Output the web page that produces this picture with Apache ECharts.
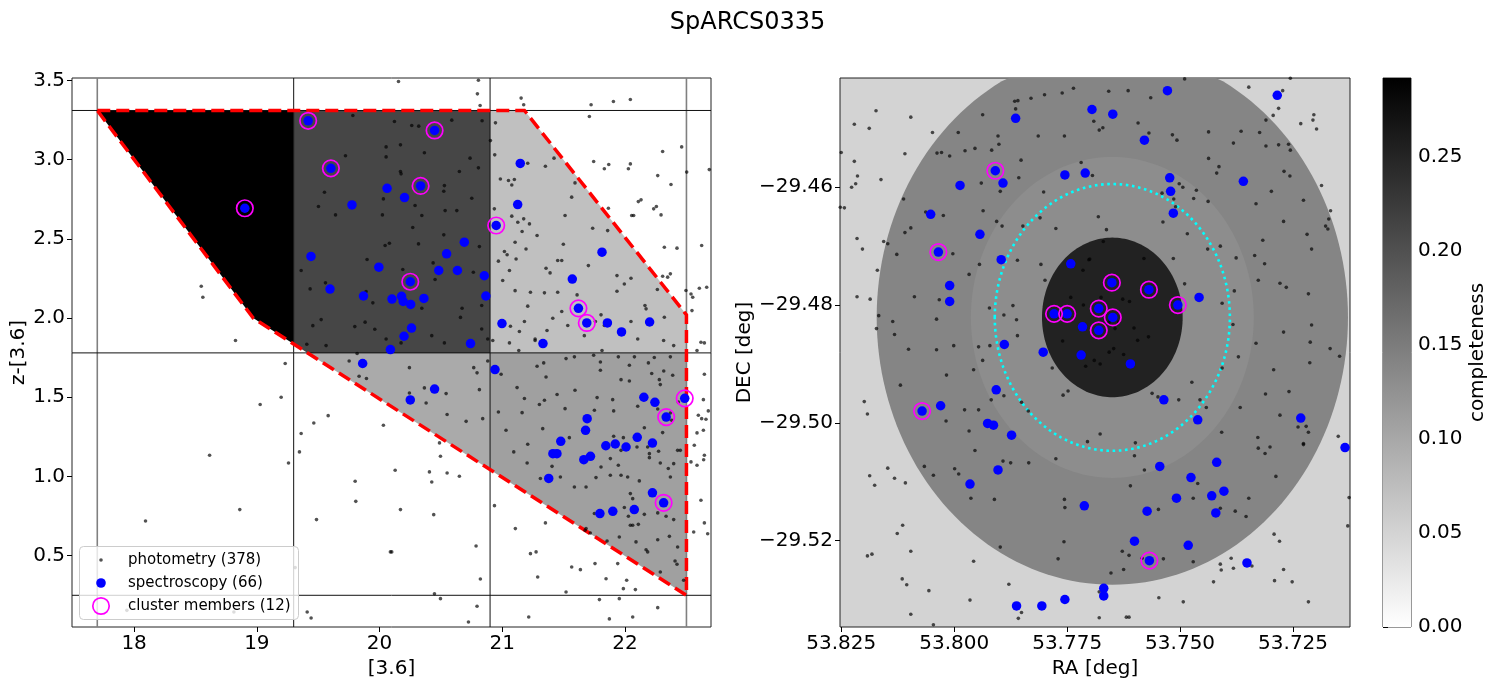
<!DOCTYPE html>
<html>
<head>
<meta charset="utf-8">
<title>SpARCS0335</title>
<script src="https://cdn.jsdelivr.net/npm/echarts@6/dist/echarts.min.js"></script>
<style>
  html, body { margin: 0; padding: 0; background: #fff; }
  #main { width: 1495px; height: 686px; }
</style>
</head>
<body>
<div id="main"></div>
<script>
// ---- colour-magnitude panel: [3.6] vs z-[3.6] ----
var magLim = [17.494, 22.70];
var colLim = [0.05, 3.515];
var magTicks = [18, 19, 20, 21, 22];
var colTicks = [0.5, 1.0, 1.5, 2.0, 2.5, 3.0, 3.5];
var magEdges = [17.7, 19.3, 20.9, 22.5];
var colEdges = [0.25, 1.78, 3.31];
// completeness per cell, row 0 = lower colour bin, row 1 = upper colour bin
var cellComp = [[0.097, 0.097, 0.109], [0.292, 0.212, 0.072]];
// selection window (red dashed)
var selMag = [17.7, 21.18, 22.5, 22.5, 18.97];
var selCol = [3.31, 3.31, 2.02, 0.25, 2.0];

var photCMD = [
[19.782,3.278],[20.053,3.080],[20.053,3.017],[19.722,3.024],[19.551,2.794],[20.031,2.752],[19.502,2.704],[19.641,2.651],
[20.023,2.651],[20.045,2.458],[20.080,2.472],[19.898,2.369],[19.361,2.300],[19.559,2.222],[19.434,2.184],[19.890,2.167],
[19.945,2.096],[19.524,1.990],[19.456,1.952],[19.882,1.974],[19.798,1.946],[19.961,1.929],[20.053,1.868],[19.407,1.835],
[19.564,1.826],[18.547,2.201],[18.560,2.131],[18.826,1.858],
[20.154,3.493],[20.805,3.501],[20.797,3.415],[20.819,3.341],[21.153,3.388],[21.174,3.346],[21.723,3.346],[21.905,3.367],
[22.043,3.379],[21.709,3.272],[20.121,3.240],[20.262,3.215],[20.319,3.211],[20.588,3.249],[20.835,3.245],[20.170,3.093],
[20.365,3.043],[20.737,3.009],[20.805,2.948],[20.650,2.925],[20.170,2.925],[20.175,2.910],[20.528,2.836],[20.523,2.800],
[20.751,2.756],[20.289,2.710],[20.344,2.647],[20.534,2.678],[20.629,2.678],[20.270,2.571],[20.523,2.525],[20.317,2.468],
[20.813,2.451],[20.436,2.348],[20.764,2.289],[20.452,2.243],[20.189,2.306],[20.344,2.062],[20.672,2.062],[20.832,2.079],
[20.659,2.004],[20.832,1.931],[20.425,1.889],[20.528,1.843],[20.881,1.868],[20.175,1.843],
[20.944,3.232],[20.903,3.120],[20.938,3.030],[21.207,2.977],[21.351,2.958],[21.421,3.009],[20.984,2.878],[21.050,2.868],
[21.098,2.874],[21.077,2.840],[21.592,2.853],[21.565,2.763],[20.935,2.689],[21.077,2.643],[21.174,2.626],[21.126,2.605],
[21.221,2.594],[21.511,2.647],[21.161,2.546],[21.283,2.521],[21.736,2.567],[21.858,2.552],[21.104,2.478],[21.017,2.420],
[21.039,2.399],[21.193,2.436],[21.497,2.466],[20.968,2.359],[21.112,2.373],[21.058,2.300],[21.451,2.363],[21.484,2.363],
[21.356,2.314],[21.389,2.285],[21.701,2.331],[21.003,2.237],[21.104,2.173],[21.229,2.163],[21.343,2.159],[21.207,2.075],
[21.451,2.163],[21.609,2.146],[21.934,2.268],[21.994,2.215],[22.048,2.251],[21.934,2.169],[22.263,2.180],[22.162,2.079],
[22.171,2.058],[22.320,2.005],[21.804,2.020],[21.484,2.041],[21.411,1.999],[21.180,1.978],[21.066,1.948],[21.139,1.915],
[21.267,1.868],[21.364,1.921],[21.533,1.953],[21.758,1.978],[21.831,1.953],[22.048,1.978],[22.103,1.868],[22.314,1.858],
[22.396,1.826],[20.922,1.858],[21.058,1.843],[21.134,1.795],[21.267,1.858],[21.812,1.795],[21.668,1.889],
[22.306,3.051],[22.461,3.080],[22.686,2.937],[22.502,2.921],[22.043,2.973],[22.027,2.942],[21.831,2.942],[21.867,2.969],
[21.744,2.988],[22.266,2.899],[22.374,2.843],[22.108,2.735],[22.130,2.746],[22.233,2.689],[22.255,2.704],[22.054,2.647],
[22.070,2.647],[22.293,2.651],[21.864,2.693],[22.320,2.447],[22.423,2.441],[22.624,2.458],[22.306,2.264],[22.347,2.258],
[22.369,2.279],[22.496,2.174],[22.551,2.131],[22.537,2.152],[22.605,2.188],[22.665,2.194],[22.545,2.047],[22.618,1.847],
[22.586,1.795],[22.646,1.843],
[19.231,1.713],[19.198,1.500],[19.027,1.454],[18.615,1.134],[19.258,1.085],[18.093,0.719],[18.861,0.791],[19.361,1.271],
[19.464,1.338],[19.581,1.384],[19.347,1.155],[19.801,0.970],[19.806,0.843],[19.486,0.728],[20.031,1.323],[19.752,1.729],
[19.817,1.776],[19.833,1.633],[19.893,1.618],[19.410,0.145],[19.442,0.107],[20.088,0.524],[19.312,0.425],[17.941,0.155],
[18.813,0.145],
[20.243,1.687],[20.365,1.559],[20.243,1.527],[20.542,1.523],[20.379,1.464],[20.550,1.391],[20.705,1.348],[20.840,1.365],
[20.813,1.548],[20.767,1.687],[20.794,1.654],[20.881,1.729],[20.990,1.645],[20.968,1.407],[21.030,1.292],[21.093,1.155],
[21.207,1.203],[21.202,1.085],[21.283,1.696],[21.337,1.717],[21.356,1.628],[21.120,1.561],[21.180,1.492],[21.302,1.454],
[21.343,1.481],[21.161,1.403],[21.446,1.517],[21.592,1.544],[21.511,1.428],[21.329,1.302],[21.546,1.245],[21.519,1.744],
[21.799,1.723],[21.799,1.670],[21.967,1.611],[22.035,1.702],[22.035,1.603],[22.190,1.717],[22.217,1.650],[22.315,1.666],
[22.388,1.639],[22.279,1.611],[22.287,1.580],[21.945,1.755],[22.076,1.755],[22.238,1.751],[22.369,1.755],[21.744,1.765],
[21.587,1.755],[21.772,1.498],[21.899,1.485],[21.750,1.418],[21.907,1.414],[22.103,1.443],[22.266,1.426],[22.434,1.470],
[22.369,1.401],[22.380,1.355],[22.306,1.277],[22.157,1.308],[21.907,1.254],[21.986,1.245],[22.097,1.186],[22.184,1.186],
[22.273,1.159],[21.880,1.113],[21.967,1.165],[21.945,1.071],[21.804,1.060],[21.763,0.993],[21.880,1.008],[21.967,1.008],
[22.021,0.997],[22.116,0.972],[22.198,1.144],[22.198,1.119],[22.287,1.085],[22.352,1.050],[22.396,1.081],[22.369,0.997],
[22.428,1.165],[22.450,1.165],[21.682,0.934],[21.587,0.934],[21.473,0.997],[21.405,1.064],[21.310,0.987],[22.043,0.892],
[22.062,0.860],[21.994,0.804],[22.027,0.749],[22.108,0.698],[22.062,0.692],[22.157,0.761],[22.266,0.770],[22.334,0.749],
[22.396,0.728],[22.361,0.622],[22.266,0.601],[22.089,0.587],[22.171,0.538],[22.184,0.524],[22.407,0.467],[22.423,0.446],
[22.287,0.397],[22.477,0.345],[22.428,0.555],[21.853,0.593],[21.717,0.643],[21.953,0.618],[21.755,0.450],[21.940,0.450],
[21.750,0.766],[21.674,0.660],[21.682,0.671],[22.043,0.692],
[20.127,1.039],[20.170,0.791],[20.099,0.524],[20.441,0.759],[20.406,1.029],[20.425,0.965],[20.550,1.022],[20.650,1.001],
[20.496,1.128],[20.488,1.212],[20.786,0.561],[20.821,0.353],[20.447,0.260],[20.496,0.229],[20.794,0.181],[20.724,0.082],
[20.936,0.816],[21.106,0.671],[21.351,0.707],[21.229,0.513],[21.275,0.524],[21.565,0.429],[21.636,0.412],[21.288,0.366],
[21.519,0.271],[21.845,0.355],[22.013,0.345],[21.986,0.292],[22.084,0.286],[21.791,0.223],[21.953,0.229],[21.872,0.101],
[21.215,0.113],[22.266,0.172],[22.062,0.113],
[22.646,1.645],[22.638,1.485],[22.597,1.386],[22.659,1.361],[22.678,1.414],[22.624,1.365],[22.586,1.275],[22.638,1.292],
[22.564,1.197],[22.646,1.134],[22.640,1.106],[22.586,1.071],[22.618,0.850],[22.646,0.707],[22.559,0.650],[22.673,0.639],
[22.537,1.092]
];

var specCMD = [
[19.418,3.245],[20.448,3.184],[19.603,2.945],[20.334,2.834],[18.902,2.693],[20.061,2.819],[20.203,2.760],[19.775,2.714],
[21.146,2.976],[21.125,2.716],[20.950,2.584],[20.690,2.479],[20.546,2.405],[19.441,2.389],[19.994,2.321],[20.482,2.300],
[20.634,2.300],[20.853,2.267],[20.250,2.229],[19.596,2.183],[19.869,2.139],[20.101,2.120],[20.179,2.137],[20.192,2.105],
[20.253,2.086],[20.361,2.124],[20.866,2.139],[20.260,1.937],[20.199,1.885],[20.088,1.801],[20.741,1.839],[21.331,1.839],
[20.997,1.965],[21.812,2.416],[21.570,2.246],[21.620,2.061],[21.688,1.969],[21.856,1.969],[21.971,1.912],[22.200,1.975],
[19.862,1.713],[20.940,1.675],[20.448,1.552],[20.250,1.483],[22.153,1.500],[22.243,1.468],[22.486,1.493],[22.335,1.375],
[21.691,1.365],[21.678,1.291],[21.476,1.222],[21.412,1.144],[21.445,1.144],[21.664,1.106],[21.718,1.127],[21.843,1.194],
[21.920,1.205],[22.008,1.186],[22.099,1.247],[22.223,1.211],[21.378,0.988],[22.223,0.897],[22.314,0.834],[21.795,0.766],
[21.900,0.780],[22.075,0.791]
];

var memberCMD = [
[19.418,3.245],[20.448,3.184],[19.603,2.945],[20.334,2.834],[18.902,2.693],[20.950,2.584],[20.250,2.229],[21.620,2.061],
[21.688,1.969],[22.486,1.493],[22.335,1.375],[22.314,0.834]
];

// ---- sky panel: RA vs DEC ----
var raLim = [53.7124, 53.82527];
var decLim = [-29.53467, -29.44145];
var raTicks = [53.725, 53.75, 53.775, 53.8, 53.825];
var decTicks = [-29.52, -29.50, -29.48, -29.46];
var fieldCenter = [53.7650, -29.4821];
var ringRadius = [0.0454, 0.02725, 0.01355];
var ringComp = [0.1397, 0.1305, 0.2531];
var outsideComp = 0.0504;
var r200 = 0.02265;

var photSky = [
[53.7490,-29.4416],[53.7256,-29.4415],[53.7348,-29.4430],[53.7273,-29.4436],[53.7736,-29.4432],[53.7761,-29.4440],
[53.7800,-29.4443],[53.7830,-29.4449],[53.7859,-29.4453],[53.7866,-29.4454],[53.7864,-29.4467],[53.7658,-29.4437],
[53.7615,-29.4436],[53.7565,-29.4448],[53.8173,-29.4470],[53.8096,-29.4481],[53.8221,-29.4493],[53.8188,-29.4500],
[53.7937,-29.4477],[53.7282,-29.4466],[53.7294,-29.4478],[53.7204,-29.4477],[53.7206,-29.4486],[53.7233,-29.4492],
[53.7198,-29.4501],[53.7310,-29.4486],[53.7691,-29.4488],[53.7671,-29.4499],[53.7679,-29.4503],[53.7593,-29.4491],
[53.7569,-29.4508],[53.7517,-29.4511],[53.7507,-29.4520],[53.7437,-29.4506],[53.7365,-29.4505],[53.7324,-29.4507],
[53.7260,-29.4527],[53.7256,-29.4537],[53.7282,-29.4528],[53.7310,-29.4530],[53.7382,-29.4525],[53.7756,-29.4513],
[53.7814,-29.4513],[53.7903,-29.4513],[53.7901,-29.4527],[53.7917,-29.4537],[53.7954,-29.4534],[53.7976,-29.4538],
[53.7991,-29.4507],[53.8048,-29.4507],[53.8038,-29.4542],[53.8028,-29.4541],[53.8010,-29.4547],[53.8109,-29.4543],
[53.8250,-29.4541],[53.8221,-29.4556],[53.8214,-29.4581],[53.8218,-29.4594],[53.8227,-29.4600],[53.8162,-29.4587],
[53.7852,-29.4554],[53.7437,-29.4551],[53.7414,-29.4565],[53.7419,-29.4576],[53.7270,-29.4573],[53.7257,-29.4581],
[53.7187,-29.4597],[53.7332,-29.4628],[53.7298,-29.4607],[53.7227,-29.4622],[53.7167,-29.4640],[53.7171,-29.4654],
[53.7178,-29.4666],[53.7173,-29.4671],[53.7271,-29.4658],[53.7317,-29.4690],[53.7219,-29.4680],[53.7209,-29.4705],
[53.7438,-29.4624],[53.7470,-29.4619],[53.7464,-29.4605],[53.7494,-29.4600],[53.7502,-29.4594],[53.7540,-29.4610],
[53.7514,-29.4620],[53.7510,-29.4633],[53.7538,-29.4659],[53.7484,-29.4679],[53.7439,-29.4705],[53.7411,-29.4700],
[53.7376,-29.4720],[53.7335,-29.4716],[53.7857,-29.4584],[53.7940,-29.4593],[53.7898,-29.4607],[53.7802,-29.4608],
[53.7936,-29.4640],[53.8024,-29.4648],[53.8112,-29.4620],[53.8096,-29.4669],[53.8109,-29.4677],[53.8156,-29.4692],
[53.8147,-29.4696],[53.8215,-29.4687],[53.8203,-29.4705],[53.8127,-29.4714],[53.8063,-29.4642],[53.7906,-29.4658],
[53.7894,-29.4666],[53.7848,-29.4666],[53.7810,-29.4652],[53.7775,-29.4670],[53.7719,-29.4558],[53.7694,-29.4580],
[53.7681,-29.4650],[53.7663,-29.4672],[53.8252,-29.4634],[53.8243,-29.4635],[53.8003,-29.4713],[53.7670,-29.4692],
[53.7580,-29.4721],[53.7515,-29.4721],[53.7700,-29.4722],
[53.8170,-29.4741],[53.8215,-29.4786],[53.8186,-29.4790],[53.8167,-29.4818],[53.8172,-29.4840],[53.8136,-29.4828],
[53.8132,-29.4850],[53.8101,-29.4875],[53.8088,-29.4786],[53.8033,-29.4791],[53.8039,-29.4824],[53.8039,-29.4876],
[53.8001,-29.4869],[53.7967,-29.4748],[53.7944,-29.4731],[53.7922,-29.4805],[53.7890,-29.4817],[53.7862,-29.4825],
[53.7870,-29.4801],[53.7860,-29.4852],[53.7946,-29.4871],[53.7921,-29.4869],[53.7937,-29.4894],[53.7957,-29.4910],
[53.8017,-29.4919],[53.8119,-29.4936],[53.8199,-29.4964],[53.8192,-29.4985],[53.8018,-29.4997],[53.7977,-29.4978],
[53.7946,-29.4978],[53.7967,-29.5014],[53.7918,-29.4961],[53.7890,-29.4954],[53.7851,-29.4965],[53.7836,-29.4980],
[53.7808,-29.4731],[53.7860,-29.4724],[53.7799,-29.4758],[53.7715,-29.4741],[53.7702,-29.4723],[53.7742,-29.4787],
[53.7714,-29.4800],[53.7675,-29.4787],[53.7627,-29.4790],[53.7612,-29.4794],[53.7657,-29.4829],[53.7636,-29.4829],
[53.7644,-29.4840],[53.7602,-29.4839],[53.7594,-29.4860],[53.7570,-29.4854],[53.7760,-29.4861],[53.7657,-29.4880],
[53.7647,-29.4874],[53.7625,-29.4884],[53.7690,-29.4894],[53.7677,-29.4900],[53.7709,-29.4904],[53.7783,-29.4907],
[53.7759,-29.4953],[53.7748,-29.4946],[53.7562,-29.4950],[53.7549,-29.4956],[53.7503,-29.4961],[53.7456,-29.4961],
[53.7442,-29.4974],[53.7474,-29.4931],[53.7490,-29.4764],[53.7380,-29.4776],[53.7407,-29.4797],[53.7383,-29.4833],
[53.7371,-29.4888],[53.7407,-29.4907],[53.7327,-29.4758],[53.7313,-29.4730],[53.7279,-29.4763],[53.7265,-29.4770],
[53.7216,-29.4781],[53.7271,-29.4846],[53.7332,-29.4865],[53.7212,-29.4863],[53.7209,-29.4834],[53.7168,-29.4874],
[53.7147,-29.4887],[53.7213,-29.4898],[53.7293,-29.4910],[53.7311,-29.4951],[53.7259,-29.4947],[53.7367,-29.4974],
[53.7279,-29.4987],[53.7239,-29.5007],[53.7221,-29.5006],[53.7216,-29.5016],[53.7328,-29.5025],[53.7408,-29.5016],
[53.7150,-29.5023],[53.7227,-29.5035],[53.7677,-29.5019],[53.7705,-29.5032],[53.7599,-29.5034],
[53.7954,-29.5047],[53.7892,-29.5065],[53.7875,-29.5068],[53.7835,-29.5068],[53.7775,-29.5061],[53.7999,-29.5078],
[53.7990,-29.5087],[53.8066,-29.5074],[53.8046,-29.5089],[53.8147,-29.5077],[53.8132,-29.5094],[53.8187,-29.5090],
[53.8176,-29.5106],[53.8108,-29.5102],[53.7963,-29.5128],[53.7911,-29.5130],[53.7601,-29.5056],[53.7579,-29.5080],
[53.7610,-29.5107],[53.7461,-29.5103],[53.7471,-29.5128],[53.7411,-29.5145],[53.7378,-29.5150],[53.7354,-29.5159],
[53.7348,-29.5128],[53.7548,-29.5147],[53.7756,-29.5130],[53.7755,-29.5144],[53.7327,-29.5043],[53.7312,-29.5052],
[53.7301,-29.5041],[53.7227,-29.5037],[53.7288,-29.5091],[53.7126,-29.5127],[53.7129,-29.5175],[53.7292,-29.5189],
[53.7280,-29.5201],[53.7271,-29.5249],[53.7252,-29.5270],[53.7291,-29.5268],[53.7216,-29.5304],[53.7387,-29.5230],
[53.7411,-29.5240],[53.7382,-29.5247],[53.7409,-29.5250],[53.7426,-29.5270],[53.7341,-29.5243],[53.7471,-29.5236],
[53.7537,-29.5231],[53.7584,-29.5230],[53.7613,-29.5225],[53.7628,-29.5218],[53.7625,-29.5249],[53.7653,-29.5255],
[53.7770,-29.5231],[53.7757,-29.5202],[53.7898,-29.5211],[53.8114,-29.5174],[53.8126,-29.5188],[53.8096,-29.5218],
[53.8192,-29.5226],[53.8182,-29.5223],[53.7957,-29.5235],[53.8115,-29.5265],[53.8105,-29.5275],[53.8056,-29.5285],
[53.7965,-29.5301],[53.8096,-29.5325],[53.8046,-29.5343],[53.7879,-29.5274],[53.7851,-29.5322],[53.7858,-29.5332],
[53.7679,-29.5287],[53.7679,-29.5331],[53.7619,-29.5330],[53.7613,-29.5330],[53.7547,-29.5297],[53.7493,-29.5304]
];

var specSky = [
[53.7528,-29.4436],[53.7285,-29.4444],[53.7695,-29.4468],[53.7649,-29.4476],[53.7864,-29.4483],[53.7579,-29.4520],
[53.7909,-29.4572],[53.7892,-29.4593],[53.7987,-29.4597],[53.7755,-29.4579],[53.7710,-29.4576],[53.7523,-29.4584],
[53.7521,-29.4607],[53.7360,-29.4590],[53.7515,-29.4644],[53.8052,-29.4646],[53.7943,-29.4680],[53.8035,-29.4710],
[53.7896,-29.4723],[53.7742,-29.4730],[53.8010,-29.4767],[53.8010,-29.4794],[53.7651,-29.4762],[53.7569,-29.4774],
[53.7505,-29.4800],[53.7458,-29.4787],[53.7779,-29.4815],[53.7750,-29.4815],[53.7680,-29.4806],[53.7649,-29.4821],
[53.7680,-29.4843],[53.7716,-29.4837],[53.7889,-29.4867],[53.7803,-29.4880],[53.7719,-29.4885],[53.7610,-29.4900],
[53.7907,-29.4944],[53.8030,-29.4971],[53.8071,-29.4980],[53.7926,-29.5001],[53.7913,-29.5004],[53.7873,-29.5021],
[53.7536,-29.4961],[53.7461,-29.4995],[53.7233,-29.4992],
[53.7135,-29.5042],[53.7903,-29.5080],[53.7965,-29.5104],[53.7545,-29.5074],[53.7419,-29.5067],[53.7476,-29.5093],
[53.7430,-29.5124],[53.7403,-29.5116],[53.7508,-29.5128],[53.7421,-29.5153],[53.7712,-29.5141],[53.7573,-29.5150],
[53.7601,-29.5201],[53.7482,-29.5208],[53.7568,-29.5234],[53.7352,-29.5238],[53.7669,-29.5281],[53.7669,-29.5294],
[53.7755,-29.5300],[53.7806,-29.5311],[53.7862,-29.5311]
];

var memberSky = [
[53.7909,-29.4572],[53.8035,-29.4710],[53.7651,-29.4762],[53.7569,-29.4774],[53.7505,-29.4800],[53.7779,-29.4815],
[53.7750,-29.4815],[53.7680,-29.4806],[53.7649,-29.4821],[53.7680,-29.4843],[53.8071,-29.4980],[53.7568,-29.5234]
];

// colour bar
var compMax = 0.292;
var compTicks = [0, 0.05, 0.10, 0.15, 0.20, 0.25];

// legend entries
var legendLabels = ['photometry (378)', 'spectroscopy (66)', 'cluster members (12)'];

var FONT = 'DejaVu Sans';
var PHOT_COLOR = 'rgba(0,0,0,0.68)';

function grayOf(v) {
  var g = Math.round(255 * (1 - Math.max(0, Math.min(v, compMax)) / compMax));
  return 'rgb(' + g + ',' + g + ',' + g + ')';
}

// Sutherland-Hodgman clip of a polygon against one half plane
function clipHalf(pts, inside, cut) {
  var out = [];
  for (var i = 0; i < pts.length; i++) {
    var a = pts[i], b = pts[(i + 1) % pts.length];
    var ia = inside(a), ib = inside(b);
    if (ia) {
      out.push(a);
      if (!ib) out.push(cut(a, b));
    } else if (ib) {
      out.push(cut(a, b));
    }
  }
  return out;
}
function atX(a, b, x) { var t = (x - a[0]) / (b[0] - a[0]); return [x, a[1] + t * (b[1] - a[1])]; }
function atY(a, b, y) { var t = (y - a[1]) / (b[1] - a[1]); return [a[0] + t * (b[0] - a[0]), y]; }
function clipRect(pts, x0, x1, y0, y1) {
  pts = clipHalf(pts, function (p) { return p[0] >= x0; }, function (a, b) { return atX(a, b, x0); });
  if (pts.length) pts = clipHalf(pts, function (p) { return p[0] <= x1; }, function (a, b) { return atX(a, b, x1); });
  if (pts.length) pts = clipHalf(pts, function (p) { return p[1] >= y0; }, function (a, b) { return atY(a, b, y0); });
  if (pts.length) pts = clipHalf(pts, function (p) { return p[1] <= y1; }, function (a, b) { return atY(a, b, y1); });
  return pts;
}

var selPoly = selMag.map(function (m, i) { return [m, selCol[i]]; });

var cellData = [];
for (var j = 0; j < colEdges.length - 1; j++) {
  for (var i = 0; i < magEdges.length - 1; i++) {
    cellData.push([magEdges[i], colEdges[j], i, j, cellComp[j][i]]);
  }
}

function renderCell(params, api) {
  var i = api.value(2), j = api.value(3);
  var poly = clipRect(selPoly, magEdges[i], magEdges[i + 1], colEdges[j], colEdges[j + 1]);
  if (poly.length < 3) return null;
  return {
    type: 'polygon',
    shape: { points: poly.map(function (p) { return api.coord(p); }) },
    style: { fill: grayOf(api.value(4)), stroke: null }
  };
}

function renderBinLines(params, api) {
  var kids = [];
  magEdges.forEach(function (m, k) {
    var a = api.coord([m, colLim[0]]), b = api.coord([m, colLim[1]]);
    var outer = (k === 0 || k === magEdges.length - 1);
    kids.push({ type: 'line', shape: { x1: a[0], y1: a[1], x2: b[0], y2: b[1] },
      style: { stroke: outer ? '#808080' : '#111', lineWidth: outer ? 1.6 : 1 } });
  });
  colEdges.forEach(function (c) {
    var a = api.coord([magLim[0], c]), b = api.coord([magLim[1], c]);
    kids.push({ type: 'line', shape: { x1: a[0], y1: a[1], x2: b[0], y2: b[1] },
      style: { stroke: '#111', lineWidth: 1 } });
  });
  return { type: 'group', children: kids };
}

function renderSelection(params, api) {
  return {
    type: 'polygon',
    shape: { points: selPoly.map(function (p) { return api.coord(p); }) },
    style: { fill: null, stroke: '#ff0000', lineWidth: 3.5, lineDash: [13, 6] }
  };
}

var cosDec = Math.cos(fieldCenter[1] * Math.PI / 180);

function skyCirclePoints(api, r, cs) {
  var pts = [];
  for (var a = 0; a < 360; a += 2) {
    var t = a * Math.PI / 180;
    pts.push(api.coord([fieldCenter[0] + r / cosDec * Math.cos(t), fieldCenter[1] + r * Math.sin(t)]));
  }
  if (echarts.graphic && echarts.graphic.clipPointsByRect) {
    pts = echarts.graphic.clipPointsByRect(pts, { x: cs.x, y: cs.y, width: cs.width, height: cs.height });
  }
  return pts;
}

var ringData = ringRadius.map(function (r, k) { return [fieldCenter[0], fieldCenter[1], k]; });

function renderRing(params, api) {
  var k = api.value(2);
  return {
    type: 'polygon',
    shape: { points: skyCirclePoints(api, ringRadius[k], params.coordSys) },
    style: { fill: grayOf(ringComp[k]), stroke: null }
  };
}

function renderR200(params, api) {
  var pts = skyCirclePoints(api, r200, params.coordSys);
  return {
    type: 'polygon',
    shape: { points: pts },
    style: { fill: null, stroke: '#00ffff', lineWidth: 2.6, lineDash: [2.6, 3.6] }
  };
}

function renderColorbar(params, api) {
  var tl = api.coord([0, compMax]), br = api.coord([1, 0]);
  return {
    type: 'rect',
    shape: { x: tl[0], y: tl[1], width: br[0] - tl[0], height: br[1] - tl[1] },
    style: {
      fill: new echarts.graphic.LinearGradient(0, 0, 0, 1, [
        { offset: 0, color: grayOf(compMax) },
        { offset: 1, color: grayOf(0) }
      ])
    }
  };
}

var tickFont = { fontFamily: FONT, fontSize: 20, color: '#000' };
var nameFont = { fontFamily: FONT, fontSize: 20, color: '#000' };

function valueAxis(extra) {
  var base = {
    type: 'value',
    splitLine: { show: false },
    axisLine: { show: false },
    axisTick: { show: true, length: 5, lineStyle: { color: '#000' } },
    axisLabel: Object.assign({ margin: 7 }, tickFont),
    nameTextStyle: nameFont,
    nameLocation: 'middle'
  };
  return echarts.util.merge(base, extra, true);
}

// legend box drawn as graphic (matplotlib-like marker sizes)
var legendX = 79, legendY = 546, rowGap = 23;
var legendGraphic = [
  { type: 'rect', left: legendX, top: legendY, z: 10, silent: true,
    shape: { width: 219, height: 73, r: 4 },
    style: { fill: 'rgba(255,255,255,0.8)', stroke: '#cccccc', lineWidth: 1 } },
  { type: 'circle', x: legendX + 22, y: legendY + 14, z: 11, silent: true,
    shape: { r: 1.8 }, style: { fill: PHOT_COLOR } },
  { type: 'circle', x: legendX + 22, y: legendY + 14 + rowGap, z: 11, silent: true,
    shape: { r: 4.8 }, style: { fill: '#0000ff' } },
  { type: 'circle', x: legendX + 22, y: legendY + 14 + 2 * rowGap, z: 11, silent: true,
    shape: { r: 8.2 }, style: { fill: 'none', stroke: '#ff00ff', lineWidth: 1.7 } }
];
legendLabels.forEach(function (t, k) {
  legendGraphic.push({ type: 'text', x: legendX + 49, y: legendY + 14 + k * rowGap, z: 11, silent: true,
    style: { text: t, fontFamily: FONT, fontSize: 15, fill: '#000', verticalAlign: 'middle', align: 'left' } });
});

var chart = echarts.init(document.getElementById('main'));

chart.setOption({
  animation: false,
  backgroundColor: '#fff',
  title: {
    text: 'SpARCS0335',
    left: 'center',
    top: 6,
    textStyle: { fontFamily: FONT, fontSize: 24, fontWeight: 'normal', color: '#000' }
  },
  graphic: legendGraphic,
  grid: [
    { left: 72, top: 78, width: 639, height: 549, show: true, borderColor: '#222', borderWidth: 1, backgroundColor: 'transparent' },
    { left: 840, top: 78, width: 510, height: 549, show: true, borderColor: '#222', borderWidth: 1, backgroundColor: grayOf(outsideComp) },
    { left: 1383, top: 78, width: 28, height: 549, show: true, borderColor: '#333', borderWidth: 1, backgroundColor: 'transparent' }
  ],
  xAxis: [
    valueAxis({ gridIndex: 0, min: magLim[0], max: magLim[1], name: '[3.6]', nameGap: 26,
      axisLabel: { customValues: magTicks }, axisTick: { customValues: magTicks } }),
    valueAxis({ gridIndex: 1, min: raLim[0], max: raLim[1], inverse: true, name: 'RA [deg]', nameGap: 26,
      axisLabel: { customValues: raTicks, formatter: function (v) { return v.toFixed(3); } },
      axisTick: { customValues: raTicks } }),
    { type: 'value', gridIndex: 2, min: 0, max: 1, show: false }
  ],
  yAxis: [
    valueAxis({ gridIndex: 0, min: colLim[0], max: colLim[1], name: 'z-[3.6]', nameGap: 32,
      axisLabel: { customValues: colTicks, formatter: function (v) { return v.toFixed(1); } },
      axisTick: { customValues: colTicks } }),
    valueAxis({ gridIndex: 1, min: decLim[0], max: decLim[1], name: 'DEC [deg]', nameGap: 77,
      axisLabel: { customValues: decTicks, formatter: function (v) { return (v < 0 ? '\u2212' : '') + Math.abs(v).toFixed(2); } },
      axisTick: { customValues: decTicks } }),
    valueAxis({ gridIndex: 2, min: 0, max: compMax, position: 'right', name: 'completeness', nameGap: 57,
      axisLabel: { customValues: compTicks, formatter: function (v) { return v.toFixed(2); } },
      axisTick: { customValues: compTicks } })
  ],
  series: [
    // left panel
    { type: 'custom', xAxisIndex: 0, yAxisIndex: 0, silent: true, z: 1, clip: true,
      data: cellData, renderItem: renderCell },
    { type: 'custom', xAxisIndex: 0, yAxisIndex: 0, silent: true, z: 1, clip: true,
      data: [[magLim[0], colLim[0]]], renderItem: renderBinLines },
    { type: 'scatter', name: legendLabels[0], xAxisIndex: 0, yAxisIndex: 0, silent: true, z: 2,
      data: photCMD, symbolSize: 3.6, itemStyle: { color: PHOT_COLOR, opacity: 1 } },
    { type: 'custom', xAxisIndex: 0, yAxisIndex: 0, silent: true, z: 2, clip: true,
      data: [[selMag[0], selCol[0]]], renderItem: renderSelection },
    { type: 'scatter', name: legendLabels[1], xAxisIndex: 0, yAxisIndex: 0, silent: true, z: 3,
      data: specCMD, symbolSize: 9.5, itemStyle: { color: '#0000ff', opacity: 1 } },
    { type: 'scatter', name: legendLabels[2], xAxisIndex: 0, yAxisIndex: 0, silent: true, z: 3,
      data: memberCMD, symbolSize: 16.5,
      itemStyle: { color: 'rgba(0,0,0,0)', borderColor: '#ff00ff', borderWidth: 1.7, opacity: 1 } },
    // right panel
    { type: 'custom', xAxisIndex: 1, yAxisIndex: 1, silent: true, z: 1, clip: true,
      data: ringData, renderItem: renderRing },
    { type: 'custom', xAxisIndex: 1, yAxisIndex: 1, silent: true, z: 1, clip: true,
      data: [[fieldCenter[0], fieldCenter[1]]], renderItem: renderR200 },
    { type: 'scatter', name: legendLabels[0], xAxisIndex: 1, yAxisIndex: 1, silent: true, z: 2,
      data: photSky, symbolSize: 3.6, itemStyle: { color: PHOT_COLOR, opacity: 1 } },
    { type: 'scatter', name: legendLabels[1], xAxisIndex: 1, yAxisIndex: 1, silent: true, z: 3,
      data: specSky, symbolSize: 9.5, itemStyle: { color: '#0000ff', opacity: 1 } },
    { type: 'scatter', name: legendLabels[2], xAxisIndex: 1, yAxisIndex: 1, silent: true, z: 3,
      data: memberSky, symbolSize: 16.5,
      itemStyle: { color: 'rgba(0,0,0,0)', borderColor: '#ff00ff', borderWidth: 1.7, opacity: 1 } },
    // colour bar
    { type: 'custom', xAxisIndex: 2, yAxisIndex: 2, silent: true, z: 1,
      data: [[0, 0]], renderItem: renderColorbar }
  ]
});
</script>
</body>
</html>
